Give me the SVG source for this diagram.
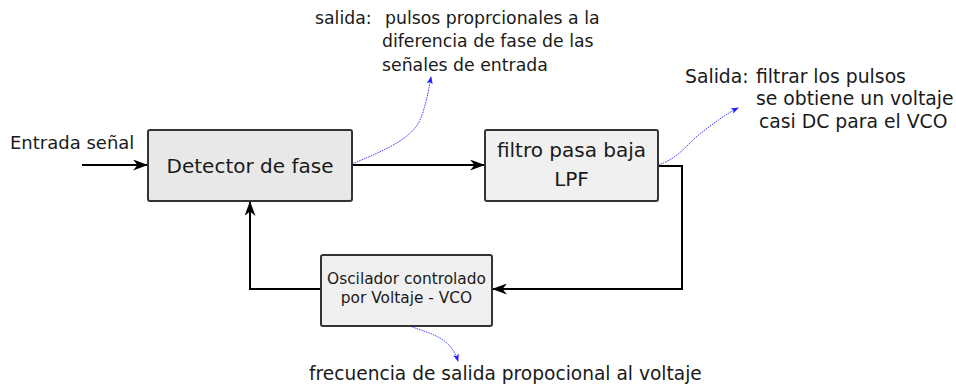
<svg xmlns="http://www.w3.org/2000/svg" width="956" height="388" viewBox="0 0 956 388">
<defs>
<style>
text{font-family:"DejaVu Sans","Liberation Sans",sans-serif;fill:#1a1a1a}
.box{stroke:#333;stroke-width:2}
.wire{fill:none;stroke:#000;stroke-width:2}
.note{fill:none;stroke:#3a3aff;stroke-width:1;stroke-dasharray:1.5 1}
</style>
<marker id="ah" markerUnits="userSpaceOnUse" viewBox="0 0 15 11" markerWidth="15" markerHeight="11" refX="14" refY="5.5" orient="auto">
<path d="M0,0 L15,5.5 L0,11 L4.5,5.5 Z" fill="#000"/>
</marker>
<marker id="bh" markerUnits="userSpaceOnUse" viewBox="0 0 8 6" markerWidth="8" markerHeight="6" refX="7" refY="3" orient="auto">
<path d="M0,0 L8,3 L0,6 L2,3 Z" fill="#2020ff"/>
</marker>
</defs>
<rect width="956" height="388" fill="#fff"/>
<g id="connectors">
<path class="wire" d="M82,165 H147" marker-end="url(#ah)"/>
<path class="wire" d="M352,165 H484" marker-end="url(#ah)"/>
<path class="wire" d="M658,166 H682 V289 H493" marker-end="url(#ah)"/>
<path class="wire" d="M321,289 H250 V202" marker-end="url(#ah)"/>
<path class="note" d="M352,164 C395,146 415,136 422,115 C427,100 429,88 431,77" marker-end="url(#bh)"/>
<path class="note" d="M658,165 C680,158 688,142 705,130 C718,120 728,113 738,108" marker-end="url(#bh)"/>
<path class="note" d="M407,325 C430,334 450,336 458,361" marker-end="url(#bh)"/>
</g>
<g id="detector">
<rect class="box" x="148" y="130" width="204" height="71" rx="2" fill="#e8e8e8"/>
<text x="250" y="173" font-size="20" text-anchor="middle">Detector de fase</text>
</g>
<g id="filtro">
<rect class="box" x="485" y="130" width="173" height="71" rx="2" fill="#f0f0f0"/>
<text x="571.5" y="157" font-size="20" text-anchor="middle">filtro pasa baja</text>
<text x="571.5" y="186" font-size="20" text-anchor="middle">LPF</text>
</g>
<g id="vco">
<rect class="box" x="321" y="255" width="171" height="71" rx="2" fill="#f0f0f0"/>
<text x="406.5" y="284" font-size="15.4" text-anchor="middle">Oscilador controlado</text>
<text x="406.5" y="303" font-size="15.4" text-anchor="middle">por Voltaje - VCO</text>
</g>
<g id="labels">
<text x="10" y="149" font-size="18">Entrada señal</text>
<text x="315" y="24" font-size="17.3">salida:<tspan x="385">pulsos proprcionales a la</tspan></text>
<text x="382" y="47" font-size="17.3">diferencia de fase de las</text>
<text x="382" y="71" font-size="17.3">señales de entrada</text>
<text x="685" y="83" font-size="18.8">Salida:<tspan x="756">filtrar los pulsos</tspan></text>
<text x="756" y="105" font-size="18.8">se obtiene un voltaje</text>
<text x="759" y="128" font-size="18.8">casi DC para el VCO</text>
<text x="309" y="380" font-size="18.6">frecuencia de salida propocional al voltaje</text>
</g>
</svg>
